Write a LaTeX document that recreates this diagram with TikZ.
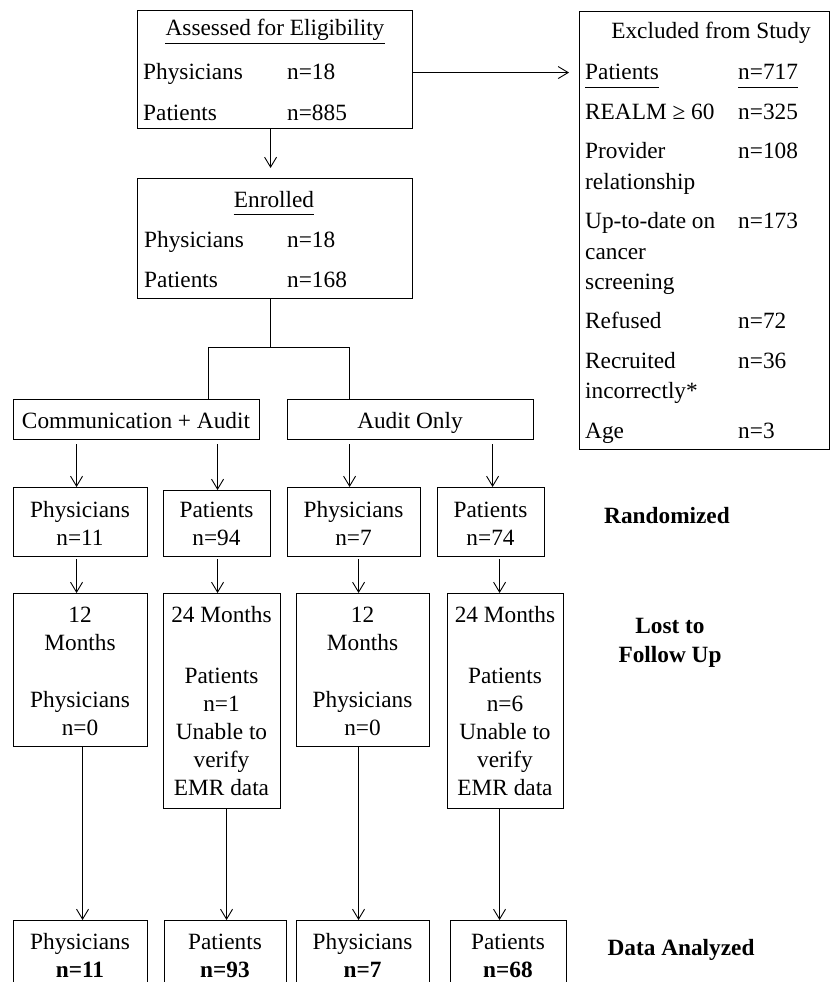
\documentclass[tikz,border=0pt]{standalone}
\usepackage{fontspec}
\setmainfont{Liberation Serif}
\usetikzlibrary{arrows.meta}
\newcommand\myfs{\fontsize{23.3}{28}\selectfont}
\begin{document}
\begin{tikzpicture}[x=1pt,y=-1pt,
  box/.style={draw, line width=1.1pt, inner sep=0pt, anchor=north west, rectangle},
  lbl/.style={inner sep=0pt, anchor=base west, font=\myfs},
  ctr/.style={inner sep=0pt, anchor=base, font=\myfs},
  bld/.style={inner sep=0pt, anchor=base, font=\myfs\bfseries},
  conn/.style={line width=0.9pt},
  arr/.style={line width=0.9pt, -{Straight Barb[length=10pt,width=12pt,line width=0.9pt]}},
  uline/.style={line width=0.9pt}]
\useasboundingbox (0,0) rectangle (830,982);
\clip (0,0) rectangle (830,982);
\fill[white] (0,0) rectangle (830,982);

% ---------- Assessed for Eligibility
\node[box,minimum width=275pt,minimum height=118pt] (A) at (137,10) {};
\node[ctr] (tA) at (275,36) {Assessed for Eligibility};
\draw[uline] ([yshift=-7pt]tA.base west) -- ([yshift=-7pt]tA.base east);
\node[lbl] (tA1) at (143,80) {Physicians};
\node[lbl] (tA1n) at (287,80) {n=18};
\node[lbl] (tA2) at (143,120) {Patients};
\node[lbl] (tA2n) at (287,120) {n=885};

% ---------- Enrolled
\node[box,minimum width=275pt,minimum height=120pt] (E) at (137,178) {};
\node[ctr] (tE) at (274,207) {Enrolled};
\draw[uline] ([yshift=-7pt]tE.base west) -- ([yshift=-7pt]tE.base east);
\node[lbl] (tE1) at (144,247) {Physicians};
\node[lbl] (tE1n) at (287,247) {n=18};
\node[lbl] (tE2) at (144,287) {Patients};
\node[lbl] (tE2n) at (287,287) {n=168};

% ---------- Excluded
\node[box,minimum width=249.5pt,minimum height=438pt] (X) at (579,11) {};
\node[ctr] (tX) at (711,39) {Excluded from Study};
\node[lbl] (x1) at (585,80) {Patients};
\node[lbl] (x1n) at (738,80) {n=717};
\draw[uline] ([yshift=-7pt]x1.base west) -- ([yshift=-7pt]x1.base east);
\draw[uline] ([yshift=-7pt]x1n.base west) -- ([yshift=-7pt]x1n.base east);
\node[lbl] (x2) at (585,119.4) {REALM ≥ 60};
\node[lbl] (x2n) at (738,119.4) {n=325};
\node[lbl] (x3) at (585,158.8) {Provider};
\node[lbl] (x3b) at (585,189.2) {relationship};
\node[lbl] (x3n) at (738,158.8) {n=108};
\node[lbl] (x4) at (585,228.6) {Up-to-date on};
\node[lbl] (x4b) at (585,259) {cancer};
\node[lbl] (x4c) at (585,289.4) {screening};
\node[lbl] (x4n) at (738,228.6) {n=173};
\node[lbl] (x5) at (585,328.8) {Refused};
\node[lbl] (x5n) at (738,328.8) {n=72};
\node[lbl] (x6) at (585,368.2) {Recruited};
\node[lbl] (x6b) at (585,398.6) {incorrectly*};
\node[lbl] (x6n) at (738,368.2) {n=36};
\node[lbl] (x7) at (585,438) {Age};
\node[lbl] (x7n) at (738,438) {n=3};

% ---------- Arms
\node[box,minimum width=246pt,minimum height=40pt] (C) at (13,399) {};
\node[ctr] (tC) at (136,428) {Communication + Audit};
\node[box,minimum width=246pt,minimum height=40pt] (AO) at (287,399) {};
\node[ctr] (tAO) at (410,428) {Audit Only};

% ---------- Randomized row
\node[box,minimum width=134pt,minimum height=69pt] (R1) at (13,487) {};
\node[ctr] (r1a) at (80,517) {Physicians};
\node[ctr] (r1b) at (80,545) {n=11};
\node[box,minimum width=107pt,minimum height=66pt] (R2) at (163,490) {};
\node[ctr] (r2a) at (216.5,517) {Patients};
\node[ctr] (r2b) at (216.5,545) {n=94};
\node[box,minimum width=133pt,minimum height=69pt] (R3) at (287,487) {};
\node[ctr] (r3a) at (353.5,517) {Physicians};
\node[ctr] (r3b) at (353.5,545) {n=7};
\node[box,minimum width=107pt,minimum height=69pt] (R4) at (437,487) {};
\node[ctr] (r4a) at (490.5,517) {Patients};
\node[ctr] (r4b) at (490.5,545) {n=74};

% ---------- Follow-up row
\node[box,minimum width=134pt,minimum height=153pt] (F1) at (13,593) {};
\node[ctr] (f1a) at (80,622) {12};
\node[ctr] (f1b) at (80,650) {Months};
\node[ctr] (f1c) at (80,707) {Physicians};
\node[ctr] (f1d) at (80,735) {n=0};
\node[box,minimum width=117pt,minimum height=215pt] (F2) at (163,593) {};
\node[ctr] (f2a) at (221.5,622) {24 Months};
\node[ctr] (f2b) at (221.5,683) {Patients};
\node[ctr] (f2c) at (221.5,711) {n=1};
\node[ctr] (f2d) at (221.5,739) {Unable to};
\node[ctr] (f2e) at (221.5,767) {verify};
\node[ctr] (f2f) at (221.5,795) {EMR data};
\node[box,minimum width=133pt,minimum height=153pt] (F3) at (296,593) {};
\node[ctr] (f3a) at (362.5,622) {12};
\node[ctr] (f3b) at (362.5,650) {Months};
\node[ctr] (f3c) at (362.5,707) {Physicians};
\node[ctr] (f3d) at (362.5,735) {n=0};
\node[box,minimum width=116pt,minimum height=215pt] (F4) at (447,593) {};
\node[ctr] (f4a) at (505,622) {24 Months};
\node[ctr] (f4b) at (505,683) {Patients};
\node[ctr] (f4c) at (505,711) {n=6};
\node[ctr] (f4d) at (505,739) {Unable to};
\node[ctr] (f4e) at (505,767) {verify};
\node[ctr] (f4f) at (505,795) {EMR data};

% ---------- Data analyzed row
\node[box,minimum width=134pt,minimum height=80pt] (D1) at (13,920) {};
\node[ctr] (d1a) at (80,949) {Physicians};
\node[bld] (d1b) at (80,977) {n=11};
\node[box,minimum width=122pt,minimum height=80pt] (D2) at (164,920) {};
\node[ctr] (d2a) at (225,949) {Patients};
\node[bld] (d2b) at (225,977) {n=93};
\node[box,minimum width=133pt,minimum height=80pt] (D3) at (296,920) {};
\node[ctr] (d3a) at (362.5,949) {Physicians};
\node[bld] (d3b) at (362.5,977) {n=7};
\node[box,minimum width=116pt,minimum height=80pt] (D4) at (450,920) {};
\node[ctr] (d4a) at (508,949) {Patients};
\node[bld] (d4b) at (508,977) {n=68};

% ---------- Side labels
\node[bld] (sRand) at (667,523) {Randomized};
\node[bld] (sLost1) at (670,633) {Lost to};
\node[bld] (sLost2) at (670,662) {Follow Up};
\node[bld] (sData) at (681,955) {Data Analyzed};

% ---------- Connectors
\draw[arr, shorten >=10pt] ([yshift=-3pt]A.east) -- ([yshift=-3pt]A.east -| X.west);
\draw[arr, shorten >=10pt] ([xshift=-4.5pt]A.south) -- ([xshift=-4.5pt]E.north);

\coordinate (j) at (270,347);
\coordinate (jl) at (208,347);
\coordinate (jr) at (349,347);
\draw[conn] (E.south -| j) -- (j);
\draw[conn] (C.north -| jl) |- (jr) -- (AO.north -| jr);

\draw[arr, shorten <=4pt] ([xshift=-60pt]C.south) -- ([xshift=-60pt]C.south |- R1.north);
\draw[arr, shorten <=4pt] ([xshift=81pt]C.south) -- ([xshift=81pt]C.south |- R2.north);
\draw[arr, shorten <=4pt] ([xshift=-61pt]AO.south) -- ([xshift=-61pt]AO.south |- R3.north);
\draw[arr, shorten <=4pt] ([xshift=82pt]AO.south) -- ([xshift=82pt]AO.south |- R4.north);

\draw[arr, shorten <=2pt] ([xshift=-4pt]R1.south) -- ([xshift=-4pt]R1.south |- F1.north);
\draw[arr, shorten <=2pt] ([xshift=0.5pt]R2.south) -- ([xshift=0.5pt]R2.south |- F2.north);
\draw[arr, shorten <=2pt] ([xshift=4.5pt]R3.south) -- ([xshift=4.5pt]R3.south |- F3.north);
\draw[arr, shorten <=2pt] ([xshift=8.5pt]R4.south) -- ([xshift=8.5pt]R4.south |- F4.north);

\draw[arr] ([xshift=2pt]F1.south) -- ([xshift=2pt]F1.south |- D1.north);
\draw[arr] ([xshift=4.5pt]F2.south) -- ([xshift=4.5pt]F2.south |- D2.north);
\draw[arr] ([xshift=-4.5pt]F3.south) -- ([xshift=-4.5pt]F3.south |- D3.north);
\draw[arr] ([xshift=-6pt]F4.south) -- ([xshift=-6pt]F4.south |- D4.north);
\end{tikzpicture}
\end{document}
